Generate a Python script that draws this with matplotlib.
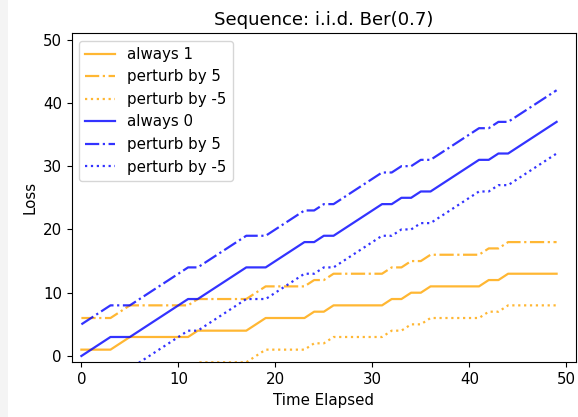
import matplotlib
matplotlib.use("Agg")
import matplotlib.pyplot as plt
from matplotlib.patches import Rectangle

time_elapsed = list(range(50))
always_1 = [1, 1, 1, 1, 2, 3, 3, 3, 3, 3, 3, 3, 4, 4, 4, 4, 4, 4, 5, 6,
            6, 6, 6, 6, 7, 7, 8, 8, 8, 8, 8, 8, 9, 9, 10, 10, 11, 11, 11, 11,
            11, 11, 12, 12, 13, 13, 13, 13, 13, 13]
always_1_plus5 = [6, 6, 6, 6, 7, 8, 8, 8, 8, 8, 8, 8, 9, 9, 9, 9, 9, 9, 10, 11,
                  11, 11, 11, 11, 12, 12, 13, 13, 13, 13, 13, 13, 14, 14, 15, 15, 16, 16, 16, 16,
                  16, 16, 17, 17, 18, 18, 18, 18, 18, 18]
always_1_minus5 = [-4, -4, -4, -4, -3, -2, -2, -2, -2, -2, -2, -2, -1, -1, -1, -1, -1, -1, 0, 1,
                   1, 1, 1, 1, 2, 2, 3, 3, 3, 3, 3, 3, 4, 4, 5, 5, 6, 6, 6, 6,
                   6, 6, 7, 7, 8, 8, 8, 8, 8, 8]
always_0 = [0, 1, 2, 3, 3, 3, 4, 5, 6, 7, 8, 9, 9, 10, 11, 12, 13, 14, 14, 14,
            15, 16, 17, 18, 18, 19, 19, 20, 21, 22, 23, 24, 24, 25, 25, 26, 26, 27, 28, 29,
            30, 31, 31, 32, 32, 33, 34, 35, 36, 37]
always_0_plus5 = [5, 6, 7, 8, 8, 8, 9, 10, 11, 12, 13, 14, 14, 15, 16, 17, 18, 19, 19, 19,
                  20, 21, 22, 23, 23, 24, 24, 25, 26, 27, 28, 29, 29, 30, 30, 31, 31, 32, 33, 34,
                  35, 36, 36, 37, 37, 38, 39, 40, 41, 42]
always_0_minus5 = [-5, -4, -3, -2, -2, -2, -1, 0, 1, 2, 3, 4, 4, 5, 6, 7, 8, 9, 9, 9,
                   10, 11, 12, 13, 13, 14, 14, 15, 16, 17, 18, 19, 19, 20, 20, 21, 21, 22, 23, 24,
                   25, 26, 26, 27, 27, 28, 29, 30, 31, 32]

plt.rcParams["font.size"] = 10.85

fig = plt.figure(figsize=(5.78, 4.17), dpi=100)
fig.patches.append(Rectangle((0, 0), 8 / 578, 1, transform=fig.transFigure,
                             facecolor="#f4f4f4", edgecolor="none", zorder=-10))
ax = fig.add_axes([71.7 / 578, (417 - 362.3) / 417, (576 - 71.7) / 578, (362.3 - 33.3) / 417])

a = 0.8
lw = 1.6
ax.plot(time_elapsed, always_1, color="orange", alpha=a, lw=lw, ls="-", label="always 1")
ax.plot(time_elapsed, always_1_plus5, color="orange", alpha=a, lw=lw, ls="-.", label="perturb by 5")
ax.plot(time_elapsed, always_1_minus5, color="orange", alpha=a, lw=lw, ls=":", label="perturb by -5")
ax.plot(time_elapsed, always_0, color="blue", alpha=a, lw=lw, ls="-", label="always 0")
ax.plot(time_elapsed, always_0_plus5, color="blue", alpha=a, lw=lw, ls="-.", label="perturb by 5")
ax.plot(time_elapsed, always_0_minus5, color="blue", alpha=a, lw=lw, ls=":", label="perturb by -5")

ax.set_xlim(-1, 51)
ax.set_ylim(-1, 51)
ax.set_xticks([0, 10, 20, 30, 40, 50])
ax.set_yticks([0, 10, 20, 30, 40, 50])
ax.set_xlabel("Time Elapsed")
ax.set_ylabel("Loss")
ax.set_title("Sequence: i.i.d. Ber(0.7)")
ax.legend(loc="upper left")

fig.savefig("out.png", dpi=100)
